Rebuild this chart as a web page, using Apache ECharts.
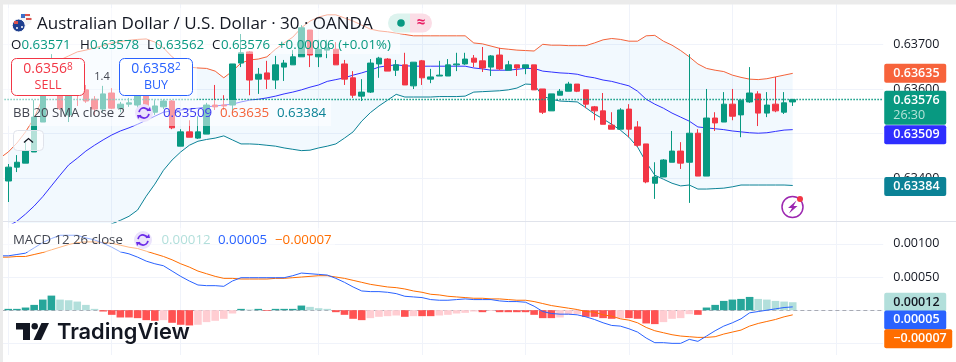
<!DOCTYPE html>
<html>

	<head>
		<meta charset="UTF-8">
		<title>AUD/USD 30</title>
		<script src="https://cdn.jsdelivr.net/npm/echarts@6/dist/echarts.min.js"></script>
		<style>
			html, body { margin: 0; padding: 0; background: #fff; height: 362px; width: 956px; overflow: hidden; }
			/* bigger than the window: the panes run past the left and bottom edges */
			#main { width: 966px; height: 400px; margin-left: -10px; }
		</style>
	</head>

	<body>
		<div id="main"></div>
		<script type="text/javascript">
			// candles
			var opens = [.63394,.63425,.63434,.63459,.63526,.63609,.63586,.63542,.63616,.63598,.63577,.63555,.63591,.63557,.63566,.63564,.63593,.63548,.63560,.63573,.63472,.63504,.63490,.63499,.63564,.63564,.63564,.63658,.63683,.63622,.63636,.63620,.63649,.63654,.63672,.63732,.63672,.63687,.63689,.63656,.63625,.63584,.63593,.63656,.63667,.63642,.63654,.63607,.63663,.63622,.63629,.63629,.63654,.63656,.63669,.63663,.63649,.63676,.63642,.63654,.63647,.63654,.63600,.63551,.63586,.63595,.63611,.63598,.63560,.63551,.63519,.63510,.63555,.63515,.63477,.63389,.63403,.63436,.63461,.63436,.63501,.63405,.63535,.63526,.63566,.63542,.63571,.63589,.63546,.63566,.63548,.63571];
			var closes = [.63425,.63436,.63461,.63537,.63586,.63642,.63557,.63586,.63593,.63573,.63555,.63589,.63557,.63566,.63569,.63593,.63548,.63562,.63573,.63513,.63504,.63492,.63504,.63564,.63560,.63562,.63656,.63681,.63620,.63633,.63622,.63654,.63658,.63672,.63737,.63676,.63689,.63692,.63654,.63622,.63586,.63593,.63658,.63669,.63640,.63654,.63609,.63660,.63625,.63627,.63631,.63654,.63656,.63667,.63660,.63647,.63674,.63645,.63654,.63647,.63654,.63598,.63548,.63589,.63595,.63611,.63595,.63566,.63551,.63521,.63510,.63553,.63510,.63474,.63392,.63403,.63441,.63461,.63434,.63501,.63405,.63535,.63524,.63566,.63539,.63575,.63591,.63546,.63564,.63551,.63569,.63576];
			var lows = [.63347,.63414,.63434,.63459,.63526,.63598,.63553,.63526,.63562,.63569,.63542,.63548,.63555,.63548,.63560,.63557,.63542,.63542,.63555,.63510,.63472,.63492,.63488,.63499,.63553,.63553,.63548,.63649,.63586,.63589,.63600,.63600,.63618,.63654,.63672,.63649,.63649,.63669,.63654,.63609,.63580,.63573,.63591,.63625,.63640,.63629,.63609,.63600,.63609,.63613,.63629,.63629,.63640,.63654,.63649,.63638,.63629,.63642,.63642,.63629,.63633,.63598,.63544,.63551,.63586,.63595,.63593,.63557,.63530,.63521,.63510,.63510,.63492,.63470,.63389,.63354,.63403,.63436,.63421,.63345,.63405,.63405,.63506,.63526,.63530,.63492,.63569,.63517,.63537,.63548,.63544,.63562];
			var highs = [.63432,.63452,.63486,.63575,.63620,.63678,.63609,.63609,.63631,.63609,.63584,.63607,.63602,.63571,.63580,.63609,.63598,.63575,.63577,.63575,.63510,.63530,.63539,.63569,.63609,.63586,.63656,.63723,.63685,.63647,.63663,.63674,.63665,.63687,.63743,.63732,.63710,.63710,.63705,.63665,.63640,.63622,.63667,.63672,.63669,.63665,.63681,.63660,.63665,.63645,.63663,.63667,.63681,.63681,.63676,.63694,.63676,.63692,.63663,.63654,.63654,.63654,.63600,.63589,.63600,.63616,.63611,.63598,.63562,.63591,.63548,.63557,.63566,.63528,.63477,.63436,.63443,.63506,.63481,.63678,.63510,.63600,.63548,.63593,.63600,.63575,.63649,.63595,.63593,.63627,.63593,.63578];

			// bollinger bands
			var bbUpper = [.63459,.63479,.63504,.63535,.63580,.63625,.63665,.63674,.63683,.63687,.63692,.63697,.63703,.63706,.63709,.63711,.63712,.63705,.63692,.63672,.63658,.63649,.63647,.63646,.63640,.63625,.63640,.63658,.63665,.63667,.63672,.63689,.63703,.63716,.63737,.63752,.63761,.63766,.63766,.63759,.63752,.63743,.63734,.63730,.63728,.63725,.63722,.63719,.63719,.63719,.63719,.63719,.63719,.63719,.63703,.63701,.63696,.63691,.63689,.63687,.63686,.63685,.63700,.63698,.63698,.63697,.63697,.63697,.63703,.63710,.63713,.63711,.63707,.63707,.63719,.63720,.63707,.63698,.63686,.63672,.63656,.63646,.63642,.63639,.63631,.63626,.63622,.63621,.63623,.63627,.63631,.63635];
			var bbBasis = [.63293,.63304,.63320,.63338,.63359,.63383,.63407,.63430,.63445,.63461,.63474,.63486,.63497,.63506,.63513,.63521,.63530,.63539,.63548,.63551,.63553,.63555,.63557,.63560,.63562,.63564,.63566,.63571,.63575,.63577,.63580,.63584,.63589,.63593,.63598,.63604,.63609,.63617,.63621,.63625,.63631,.63636,.63642,.63649,.63652,.63654,.63652,.63651,.63651,.63651,.63651,.63651,.63651,.63651,.63647,.63645,.63642,.63642,.63642,.63644,.63646,.63646,.63640,.63638,.63636,.63635,.63633,.63628,.63625,.63620,.63617,.63612,.63607,.63595,.63577,.63566,.63557,.63546,.63537,.63528,.63515,.63513,.63511,.63509,.63506,.63504,.63502,.63501,.63502,.63505,.63508,.63509];
			var bbLower = [.63194,.63199,.63203,.63210,.63217,.63226,.63235,.63244,.63255,.63266,.63277,.63289,.63298,.63306,.63315,.63329,.63360,.63387,.63418,.63441,.63459,.63474,.63483,.63487,.63490,.63495,.63486,.63477,.63477,.63476,.63474,.63472,.63468,.63465,.63462,.63463,.63468,.63472,.63477,.63490,.63504,.63528,.63547,.63562,.63575,.63588,.63582,.63582,.63582,.63582,.63583,.63583,.63583,.63584,.63593,.63594,.63595,.63596,.63598,.63602,.63611,.63610,.63584,.63577,.63573,.63572,.63571,.63558,.63544,.63533,.63521,.63508,.63492,.63470,.63436,.63407,.63398,.63389,.63383,.63385,.63376,.63376,.63377,.63378,.63381,.63385,.63385,.63385,.63385,.63385,.63385,.63384];

			// macd pane
			var macdLine = [.00082,.00084,.00086,.00094,.00102,.00108,.00113,.00113,.00113,.00109,.00106,.00101,.00095,.00088,.00085,.00080,.00074,.00070,.00067,.00059,.00051,.00044,.00038,.00037,.00037,.00036,.00044,.00049,.00049,.00049,.00049,.00049,.00049,.00052,.00056,.00055,.00054,.00053,.00048,.00042,.00035,.00029,.00028,.00028,.00027,.00025,.00021,.00020,.00019,.00016,.00015,.00015,.00016,.00017,.00016,.00016,.00016,.00014,.00013,.00013,.00012,.00006,-.00002,-.00005,-.00006,-.00006,-.00007,-.00010,-.00014,-.00019,-.00023,-.00024,-.00028,-.00033,-.00042,-.00049,-.00049,-.00050,-.00050,-.00044,-.00047,-.00039,-.00031,-.00024,-.00019,-.00013,-.00004,-.00002,0,.00002,.00004,.00005];
			var signalLine = [.00080,.00081,.00081,.00084,.00087,.00091,.00095,.00099,.00102,.00103,.00103,.00102,.00101,.00098,.00095,.00093,.00089,.00085,.00081,.00076,.00070,.00065,.00059,.00055,.00051,.00048,.00048,.00047,.00047,.00047,.00047,.00048,.00048,.00049,.00050,.00051,.00052,.00052,.00050,.00048,.00045,.00042,.00039,.00037,.00035,.00034,.00032,.00029,.00027,.00024,.00023,.00021,.00020,.00019,.00018,.00018,.00017,.00017,.00016,.00015,.00015,.00013,.00010,.00007,.00005,.00003,.00001,-.00002,-.00003,-.00007,-.00009,-.00013,-.00015,-.00019,-.00026,-.00031,-.00034,-.00037,-.00039,-.00040,-.00041,-.00041,-.00040,-.00036,-.00033,-.00030,-.00024,-.00020,-.00017,-.00014,-.00010,-.00007];
			var histogram = [.00002,.00002,.00004,.00008,.00016,.00022,.00016,.00015,.00013,.00008,.00002,-.00002,-.00007,-.00011,-.00011,-.00012,-.00015,-.00016,-.00015,-.00019,-.00022,-.00023,-.00022,-.00018,-.00016,-.00013,-.00005,.00002,.00001,.00002,-.00001,.00002,.00002,.00002,.00007,.00005,.00003,.00002,-.00003,-.00007,-.00013,-.00015,-.00012,-.00010,-.00009,-.00008,-.00010,-.00009,-.00009,-.00009,-.00008,-.00007,-.00005,-.00004,-.00002,-.00003,-.00001,-.00003,-.00003,-.00003,-.00003,-.00007,-.00012,-.00012,-.00011,-.00007,-.00006,-.00010,-.00010,-.00012,-.00013,-.00012,-.00012,-.00013,-.00020,-.00021,-.00018,-.00013,-.00012,-.00006,-.00007,.00004,.00008,.00014,.00016,.00017,.00020,.00017,.00016,.00014,.00013,.00012];

			// the bar before the first one is cut off by the left edge, only its lines still show
			var firstUpper = .63445, firstMacd = .00082, firstSignal = .00080;
			var emptyBars = 10; // room right of the last candle
			var sessionBars = [0, 12, 20, 36, 48, 60, 72, 84, 96]; // vertical grid lines

			var lastPrice = .63576, priceCountdown = '26:30';
			var priceTicks = [.637, .636, .635, .634];
			var macdTicks = [.001, .0005];

			var UP = '#089981', DOWN = '#F23645';
			var FONT = '"Open Sans", "Noto Sans", sans-serif';
			var BAND = 8.62;
			var SHIFT = 10; // #main starts this far left of the window

			var categories = [];
			for (var i = 0; i < opens.length + emptyBars + 1; i++) categories.push(String(i - 1));

			function pad(arr, first) {
				return [first === undefined ? null : first].concat(arr);
			}
			var candleData = ['-'];
			for (var i = 0; i < opens.length; i++) candleData.push([opens[i], closes[i], lows[i], highs[i]]);
			var bandWidth = bbUpper.map(function(v, k) { return +(v - bbLower[k]).toFixed(5); });

			// darker bar while the histogram moves away from zero
			var histData = [null];
			for (var i = 0; i < histogram.length; i++) {
				var v = histogram[i], prev = i ? histogram[i - 1] : v, color;
				if (v >= 0) color = v >= prev ? '#26A69A' : '#B2DFDB';
				else color = v <= prev ? '#FF5252' : '#FFCDD2';
				histData.push({ value: v, itemStyle: { color: color } });
			}

			function vLines() {
				return {
					silent: true, symbol: 'none', z: 0, animation: false,
					lineStyle: { color: '#F0F3FA', width: 1, type: 'solid' },
					label: { show: false },
					data: sessionBars.map(function(b) { return { xAxis: b + 1 }; })
				};
			}

			function tag(value, text, bg, fg, shift, boxW) {
				return {
					yAxis: value,
					lineStyle: { width: 0, color: 'transparent' },
					label: {
						show: true, position: 'end', distance: 1, offset: [0, shift],
						formatter: text, backgroundColor: bg, color: fg,
						fontFamily: FONT, fontSize: 12.5, fontWeight: 600,
						padding: [3, 0, 3, 9], width: boxW || 53, height: 13, lineHeight: 13, align: 'left',
						borderRadius: 2
					}
				};
			}

			function tickText(ticks) {
				return function(v) {
					for (var k = 0; k < ticks.length; k++) {
						if (Math.abs(v - ticks[k]) < 1e-7) return v.toFixed(5);
					}
					return '';
				};
			}

			var chart = echarts.init(document.getElementById('main'), null, { renderer: 'canvas' });

			var axisCommon = {
				type: 'category', data: categories, boundaryGap: true,
				axisLine: { show: false }, axisTick: { show: false }, axisLabel: { show: false }, splitLine: { show: false }
			};

			function t(x, y, text, color, size, extra) {
				var s = { x: x, y: y, text: text, fill: color, font: (extra && extra.font) || (size + 'px ' + FONT), textVerticalAlign: 'middle', textAlign: (extra && extra.align) || 'left' };
				if (extra && extra.rich) s.rich = extra.rich;
				return { type: 'text', z: 120, silent: true, style: s };
			}
			function box(x, y, w, h, fill, stroke, r, z) {
				return { type: 'rect', z: z || 110, silent: true, shape: { x: x, y: y, width: w, height: h, r: r || 0 }, style: { fill: fill, stroke: stroke || null, lineWidth: 1 } };
			}
			function refreshIcon(cx, cy) {
				var purple = '#6B2BE8';
				return [
					{ type: 'circle', z: 115, silent: true, shape: { cx: cx, cy: cy, r: 9 }, style: { fill: '#EBE3FB' } },
					{ type: 'arc', z: 116, silent: true, shape: { cx: cx, cy: cy, r: 5, startAngle: Math.PI * 1.05, endAngle: Math.PI * 1.85 }, style: { stroke: purple, lineWidth: 1.8, fill: null } },
					{ type: 'arc', z: 116, silent: true, shape: { cx: cx, cy: cy, r: 5, startAngle: Math.PI * 0.05, endAngle: Math.PI * 0.85 }, style: { stroke: purple, lineWidth: 1.8, fill: null } },
					{ type: 'polygon', z: 116, silent: true, shape: { points: [[cx + 2.5, cy - 2], [cx + 7, cy - 2], [cx + 6, cy - 6]] }, style: { fill: purple } },
					{ type: 'polygon', z: 116, silent: true, shape: { points: [[cx - 2.5, cy + 2], [cx - 7, cy + 2], [cx - 6, cy + 6]] }, style: { fill: purple } }
				];
			}

			var overlay = [
				// soft white backing behind the legend rows
				box(3, 8, 432, 26, 'rgba(255,255,255,0.5)'),
				box(3, 34, 397, 20, 'rgba(255,255,255,0.5)'),
				box(3, 54, 194, 46, 'rgba(255,255,255,0.5)'),
				box(3, 100, 328, 26, 'rgba(255,255,255,0.5)'),
				box(3, 228, 332, 24, 'rgba(255,255,255,0.5)'),

				// flags
				{ type: 'circle', z: 118, silent: true, shape: { cx: 25.5, cy: 19.5, r: 6 }, style: { fill: '#F5F5F5' } },
				{ type: 'rect', z: 118, silent: true, shape: { x: 24, y: 14, width: 6, height: 2 }, style: { fill: '#D9534F' } },
				{ type: 'rect', z: 118, silent: true, shape: { x: 26, y: 18, width: 5.5, height: 2 }, style: { fill: '#D9534F' } },
				{ type: 'rect', z: 118, silent: true, shape: { x: 21, y: 14, width: 4, height: 4 }, style: { fill: '#3B6FC9' } },
				{ type: 'circle', z: 119, silent: true, shape: { cx: 18.7, cy: 25.5, r: 6.5 }, style: { fill: '#1E3F8F', stroke: '#fff', lineWidth: 1 } },
				{ type: 'rect', z: 119, silent: true, shape: { x: 14, y: 21, width: 4, height: 3 }, style: { fill: '#D9534F' } },
				{ type: 'circle', z: 119, silent: true, shape: { cx: 22, cy: 27, r: 1 }, style: { fill: '#fff' } },
				{ type: 'circle', z: 119, silent: true, shape: { cx: 17, cy: 28, r: 1 }, style: { fill: '#fff' } },

				t(37, 24, 'Australian Dollar / U.S. Dollar · 30 · OANDA', '#131722', 17),

				// market status pill
				box(388, 13.5, 22, 19, '#DDF3EE', null, [9.5, 0, 0, 9.5]),
				box(410, 13.5, 22, 19, '#FBDDE6', null, [0, 9.5, 9.5, 0]),
				{ type: 'circle', z: 118, silent: true, shape: { cx: 401, cy: 23, r: 3.8 }, style: { fill: UP } },
				t(421, 23, '≈', '#E91E63', 15, { align: 'center', font: '700 15px ' + FONT }),

				t(11, 45, 'O', '#131722', 13.3), t(21.5, 45, '0.63571', UP, 13.3),
				t(80, 45, 'H', '#131722', 13.3), t(90, 45, '0.63578', UP, 13.3),
				t(147, 45, 'L', '#131722', 13.3), t(155, 45, '0.63562', UP, 13.3),
				t(212, 45, 'C', '#131722', 13.3), t(221, 45, '0.63576', UP, 13.3),
				t(278, 45, '+0.00006 (+0.01%)', UP, 13.3),

				// trade buttons
				box(11.5, 58.5, 73, 37, '#fff', DOWN, 5, 112),
				t(48, 69, '{a|0.6356}{b|8}', DOWN, 14, { align: 'center', rich: { a: { font: '500 14px ' + FONT, fill: DOWN }, b: { font: '500 10px ' + FONT, fill: DOWN, verticalAlign: 'top' } } }),
				t(48, 85, 'SELL', DOWN, 12.5, { align: 'center' }),
				t(102, 77, '1.4', '#434651', 11, { align: 'center' }),
				box(119.5, 58.5, 73, 37, '#fff', '#2962FF', 5, 112),
				t(156, 69, '{a|0.6358}{b|2}', '#2962FF', 14, { align: 'center', rich: { a: { font: '500 14px ' + FONT, fill: '#2962FF' }, b: { font: '500 10px ' + FONT, fill: '#2962FF', verticalAlign: 'top' } } }),
				t(156, 85, 'BUY', '#2962FF', 12.5, { align: 'center' }),

				t(13, 113, 'BB 20 SMA close 2', '#434651', 13.2),
				t(163, 113, '0.63509', '#3A3AF0', 13.3),
				t(220, 113, '0.63635', '#F4633A', 13.3),
				t(277, 113, '0.63384', '#0B8296', 13.3),

				// collapse button
				box(13.5, 130.5, 30, 20, 'rgba(255,255,255,0.7)', '#E0E3EB', 4),
				{ type: 'polyline', z: 118, silent: true, shape: { points: [[24, 142.5], [28.5, 138.5], [33, 142.5]] }, style: { stroke: '#131722', lineWidth: 1.3, fill: null } },

				// pane separator and strip below the panes
				{ type: 'rect', z: 105, silent: true, shape: { x: 0, y: 221, width: 956, height: 1 }, style: { fill: '#E0E3EB' } },
				{ type: 'rect', z: 105, silent: true, shape: { x: 0, y: 355, width: 956, height: 45 }, style: { fill: '#fff' } },

				t(13, 240, 'MACD 12 26 close', '#434651', 13.2),
				t(161.5, 240, '0.00012', '#B2DFDB', 13.3),
				t(218, 240, '0.00005', '#2962FF', 13.3),
				t(275, 240, '−0.00007', '#FF6D00', 13.3),

				// signal icon
				{ type: 'circle', z: 118, silent: true, shape: { cx: 792.5, cy: 207, r: 10.5 }, style: { fill: '#fff', stroke: '#9C27B0', lineWidth: 1.5 } },
				{ type: 'polygon', z: 119, silent: true, shape: { points: [[796.5, 200.5], [788, 208], [792, 208], [789, 213.5], [797.5, 206], [793.5, 206]] }, style: { fill: '#9C27B0' } },
				{ type: 'circle', z: 119, silent: true, shape: { cx: 800, cy: 199, r: 3 }, style: { fill: DOWN } },

				// logo
				{ type: 'polygon', z: 120, silent: true, shape: { points: [[16, 323], [30, 323], [30, 340], [23, 340], [23, 329.5], [16, 329.5]] }, style: { fill: '#131722' } },
				{ type: 'circle', z: 120, silent: true, shape: { cx: 34.7, cy: 326.2, r: 3.2 }, style: { fill: '#131722' } },
				{ type: 'polygon', z: 120, silent: true, shape: { points: [[41.5, 323], [49, 323], [41, 340], [33.5, 340]] }, style: { fill: '#131722' } },
				t(57, 332, 'TradingView', '#131722', 22, { font: '600 21.8px Inter, sans-serif' }),

				// grey page edge
				{ type: 'rect', z: 125, silent: true, shape: { x: 0, y: 0, width: 3, height: 400 }, style: { fill: '#EBEBEB' } },
				{ type: 'rect', z: 125, silent: true, shape: { x: 0, y: 0, width: 956, height: 4.5 }, style: { fill: '#EBEBEB' } }
			].concat(refreshIcon(144, 113), refreshIcon(143, 240));

			var gridLeft = SHIFT + 8.3 - BAND * 1.5;

			chart.setOption({
				animation: false,
				backgroundColor: '#fff',
				grid: [
					{ left: gridLeft, top: 4.1, width: BAND * categories.length, height: 218.9 },
					{ left: gridLeft, top: 222, width: BAND * categories.length, height: 154.5 }
				],
				xAxis: [
					Object.assign({ gridIndex: 0 }, axisCommon),
					Object.assign({ gridIndex: 1 }, axisCommon)
				],
				yAxis: [
					{
						gridIndex: 0, type: 'value', position: 'right', min: .633, max: .6379, interval: .001,
						axisLine: { show: false }, axisTick: { show: false },
						axisLabel: { color: '#131722', fontFamily: FONT, fontSize: 12.5, margin: 10, formatter: tickText(priceTicks), showMaxLabel: false, showMinLabel: false },
						splitLine: { lineStyle: { color: '#F0F3FA' }, showMaxLine: false, showMinLine: false }
					},
					{
						gridIndex: 1, type: 'value', position: 'right', min: -.001, max: .00133, interval: .0005,
						axisLine: { show: false }, axisTick: { show: false },
						axisLabel: { color: '#131722', fontFamily: FONT, fontSize: 12.5, margin: 10, formatter: tickText(macdTicks), showMaxLabel: false, showMinLabel: false },
						splitLine: { lineStyle: { color: '#F0F3FA' }, showMaxLine: false, showMinLine: false }
					}
				],
				series: [
					{ type: 'line', data: [], xAxisIndex: 0, yAxisIndex: 0, z: 0, markLine: vLines() },
					{ type: 'line', data: [], xAxisIndex: 1, yAxisIndex: 1, z: 0, markLine: vLines() },
					// band fill: invisible lower edge plus stacked width
					{ type: 'line', data: pad(bbLower), stack: 'bb', symbol: 'none', lineStyle: { width: 0, opacity: 0 }, z: 1, silent: true },
					{ type: 'line', data: pad(bandWidth), stack: 'bb', symbol: 'none', lineStyle: { width: 0, opacity: 0 }, areaStyle: { color: 'rgba(33,150,243,0.06)', opacity: 1 }, z: 1, silent: true },
					{ type: 'line', data: pad(bbUpper, firstUpper), symbol: 'none', lineStyle: { color: '#F4633A', width: 1 }, z: 2, silent: true },
					{ type: 'line', data: pad(bbBasis), symbol: 'none', lineStyle: { color: '#3030FF', width: 1 }, z: 2, silent: true },
					{ type: 'line', data: pad(bbLower), symbol: 'none', lineStyle: { color: '#0B8296', width: 1 }, z: 2, silent: true },
					{
						type: 'candlestick', data: candleData, barWidth: 6, z: 3, silent: true,
						itemStyle: { color: UP, color0: DOWN, borderColor: UP, borderColor0: DOWN, borderWidth: 1 }
					},
					// price line and the tags on the price scale
					{
						type: 'line', data: [], xAxisIndex: 0, yAxisIndex: 0, z: 6,
						markLine: {
							silent: true, symbol: 'none', z: 20, precision: 5,
							data: [
								{ yAxis: lastPrice, lineStyle: { color: UP, width: 1.4, type: [1.5, 1.5] }, label: { show: false } },
								tag(bbUpper[bbUpper.length - 1], '0.63635', '#F7633B', '#fff', 0),
								tag(bbBasis[bbBasis.length - 1], '0.63509', '#2E2EFF', '#fff', 5),
								tag(bbLower[bbLower.length - 1], '0.63384', '#0B8296', '#fff', 1),
								{
									yAxis: lastPrice, lineStyle: { width: 0, color: 'transparent' },
									label: {
										show: true, position: 'end', distance: 1, offset: [0, 8],
										formatter: '{a|' + lastPrice.toFixed(5) + '}\n{b|' + priceCountdown + '}',
										backgroundColor: UP, padding: [2, 0, 2, 9], width: 53, align: 'left', borderRadius: 2,
										rich: {
											a: { color: '#fff', fontFamily: FONT, fontSize: 12.5, fontWeight: 600, lineHeight: 15 },
											b: { color: '#B5E3D8', fontFamily: FONT, fontSize: 12.5, lineHeight: 15 }
										}
									}
								}
							]
						}
					},
					{
						type: 'bar', data: histData, xAxisIndex: 1, yAxisIndex: 1, barWidth: 7.6, z: 3, silent: true,
						markLine: {
							silent: true, symbol: 'none', z: 2,
							lineStyle: { color: 'rgba(120,123,134,0.6)', type: [4, 3], width: 1 },
							label: { show: false },
							data: [{ yAxis: 0 }]
						}
					},
					{ type: 'line', data: pad(signalLine, firstSignal), xAxisIndex: 1, yAxisIndex: 1, symbol: 'none', lineStyle: { color: '#FF6D00', width: 1 }, z: 4, silent: true },
					{
						type: 'line', data: pad(macdLine, firstMacd), xAxisIndex: 1, yAxisIndex: 1, symbol: 'none', lineStyle: { color: '#2962FF', width: 1 }, z: 4, silent: true,
						markLine: {
							silent: true, symbol: 'none', z: 20, precision: 5,
							data: [
								tag(histogram[histogram.length - 1], '0.00012', '#B2DFDB', '#131722', 0),
								tag(macdLine[macdLine.length - 1], '0.00005', '#2962FF', '#fff', 13),
								tag(signalLine[signalLine.length - 1], '−0.00007', '#FF6D00', '#fff', 24, 59)
							]
						}
					}
				],
				graphic: { elements: [{ type: 'group', x: SHIFT, y: 0, children: overlay }] }
			});
		</script>
	</body>

</html>
